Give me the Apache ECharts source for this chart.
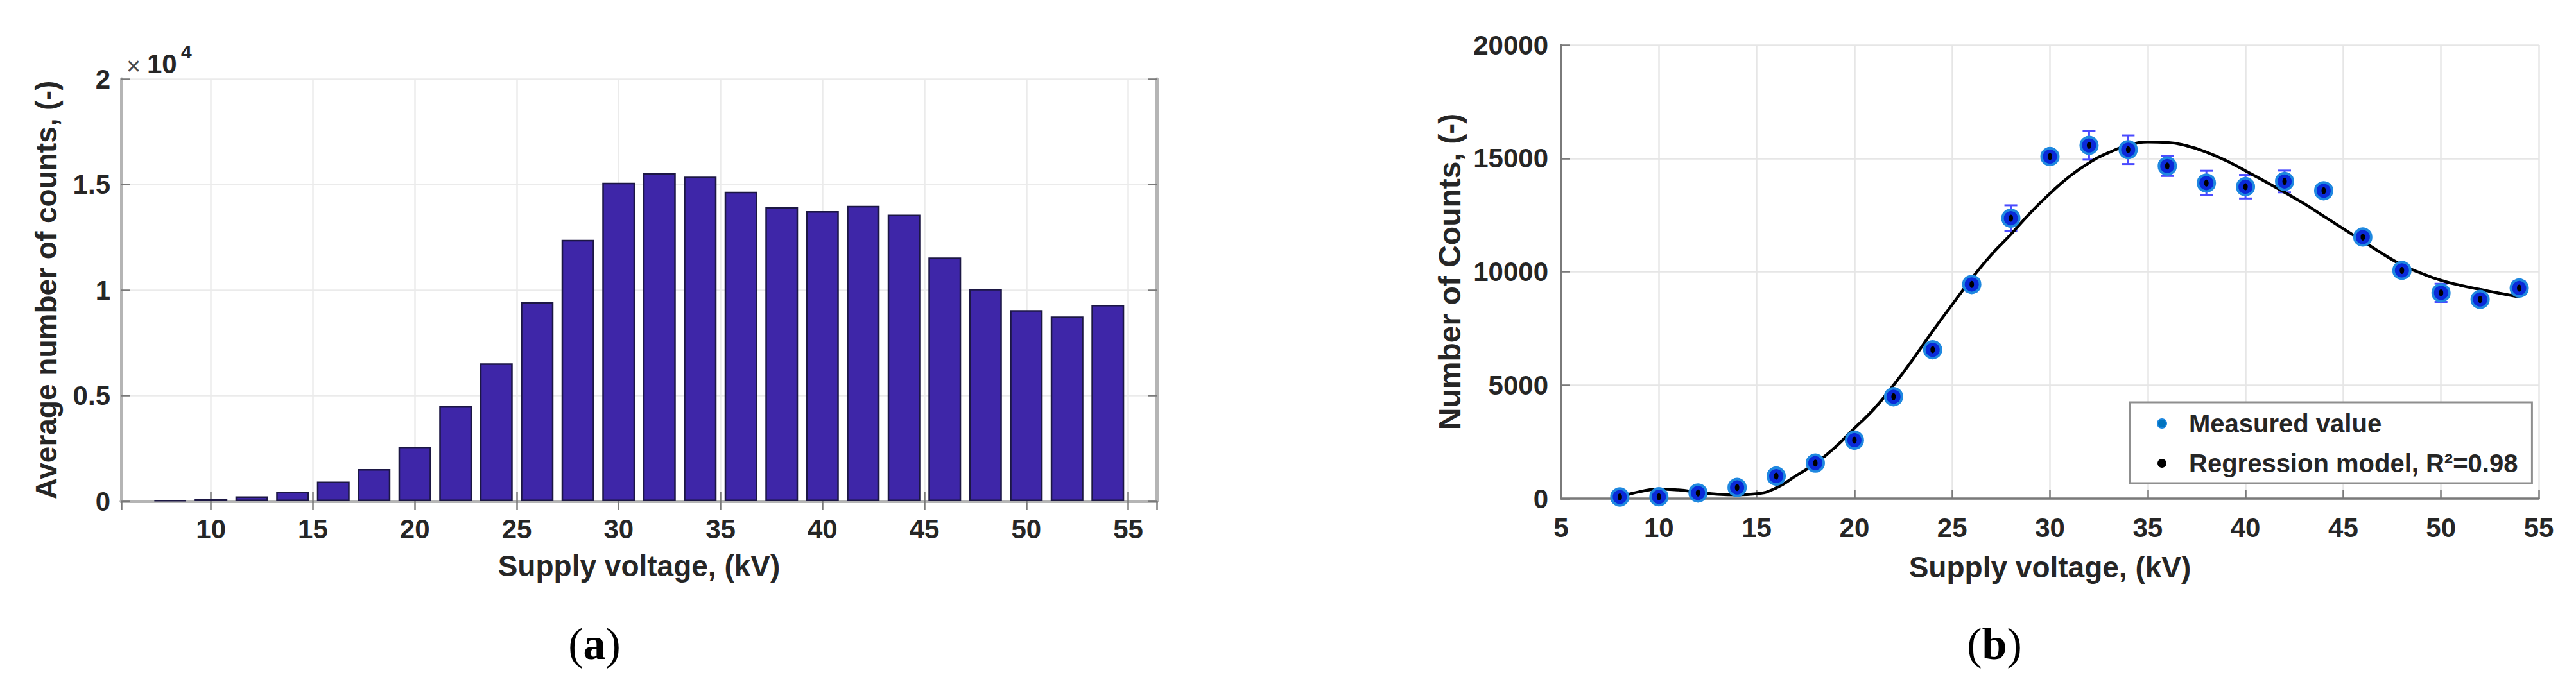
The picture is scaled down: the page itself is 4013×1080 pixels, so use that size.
<!DOCTYPE html>
<html><head><meta charset="utf-8">
<script src="https://cdn.jsdelivr.net/npm/echarts@6/dist/echarts.min.js"></script>
<style>html,body{margin:0;padding:0;background:#fff}#c{width:4013px;height:1080px}</style>
</head><body><div id="c"></div>
<script>
// ---- data ----
const voltage = [8,10,12,14,16,18,20,22,24,26,28,30,32,34,36,38,40,42,44,46,48,50,52,54];
const avgCounts = [40,120,230,450,930,1520,2580,4500,6530,9420,12380,15080,15540,15370,14660,13930,13740,13990,13570,11540,10050,9050,8750,9300];
const measuredCounts = [70,80,245,490,990,1565,2575,4490,6560,9440,12360,15080,15570,15380,14660,13910,13750,13980,13570,11530,10060,9070,8780,9280];
const measuredErr = [60,60,80,100,120,150,150,180,200,300,570,250,630,630,440,540,520,480,200,250,250,400,250,300];
const modelVoltage = [8,9,10,11,12,13,14,15,16,17,18,19,20,21,22,23,24,25,26,27,28,29,30,31,32,33,34,35,36,37,38,39,40,41,42,43,44,45,46,47,48,49,50,51,52,53,54];
const modelCounts = [70,300,420,380,280,190,160,210,470,1000,1550,2250,3100,3950,5000,6150,7380,8550,9700,10750,11650,12600,13450,14200,14800,15250,15560,15720,15700,15550,15270,14900,14450,13980,13500,13000,12450,11900,11350,10800,10300,9930,9620,9400,9220,9050,8890];
const yTickLabelsA = ['0','0.5','1','1.5','2'];
const legendNames = ['Measured value','Regression model, R\u00B2=0.98'];

const FONT = '"Liberation Sans", Arial, Helvetica, sans-serif';
const TXT = '#262626';
const chart = echarts.init(document.getElementById('c'), null, {renderer:'svg'});

const tickFont = {color:TXT, fontSize:42, fontWeight:'bold', fontFamily:FONT};
const nameFont = {color:TXT, fontSize:46, fontWeight:'bold', fontFamily:FONT};

const axA = {lineStyle:{color:'#b5b5b5', width:5}};
const tickA = {inside:true, length:14, lineStyle:{color:'#7a7a7a', width:2.5}};
const gridLineA = {show:true, lineStyle:{color:'#ebebeb', width:2.5}};
const axB = {lineStyle:{color:'#7a7a7a', width:3.5}};
const tickB = {inside:true, length:14, lineStyle:{color:'#7a7a7a', width:2.5}};
const gridLineB = {show:true, lineStyle:{color:'#e6e6e6', width:2.5}};

const option = {
  backgroundColor:'#ffffff',
  animation:false,
  grid:[
    {left:189, top:123, width:1613, height:658, containLabel:false},
    {left:2432, top:70, width:1523, height:707, containLabel:false}
  ],
  xAxis:[
    {gridIndex:0, type:'value', min:5.6, max:56.4, splitNumber:10,
     axisLine:axA, axisTick:tickA,
     axisLabel:Object.assign({showMinLabel:false, showMaxLabel:false, margin:22}, tickFont),
     splitLine:gridLineA,
     name:'Supply voltage, (kV)', nameLocation:'middle', nameGap:78, nameTextStyle:nameFont},
    {gridIndex:0, type:'value', position:'top', min:5.6, max:56.4, splitNumber:10,
     axisLine:axA, axisTick:tickA, axisLabel:{show:false}, splitLine:{show:false}},
    {gridIndex:1, type:'value', min:5, max:55, interval:5,
     axisLine:axB, axisTick:tickB,
     axisLabel:Object.assign({margin:24, formatter:function(v){return String(v);}}, tickFont),
     splitLine:gridLineB,
     name:'Supply voltage, (kV)', nameLocation:'middle', nameGap:84, nameTextStyle:nameFont}
  ],
  yAxis:[
    {gridIndex:0, type:'value', min:0, max:20000, interval:5000,
     axisLine:axA, axisTick:tickA,
     axisLabel:Object.assign({margin:17, formatter:function(v){return yTickLabelsA[Math.round(v/5000)];}}, tickFont),
     splitLine:gridLineA,
     name:'Average number of counts, (-)', nameLocation:'middle', nameGap:94, nameTextStyle:nameFont},
    {gridIndex:0, type:'value', position:'right', min:0, max:20000, interval:5000,
     axisLine:axA, axisTick:tickA, axisLabel:{show:false}, splitLine:{show:false}},
    {gridIndex:1, type:'value', min:0, max:20000, interval:5000,
     axisLine:axB, axisTick:tickB,
     axisLabel:Object.assign({margin:20, formatter:function(v){return String(v);}}, tickFont),
     splitLine:gridLineB,
     name:'Number of Counts, (-)', nameLocation:'middle', nameGap:150, nameTextStyle:Object.assign({}, nameFont, {fontSize:48})}
  ],
  legend:{
    show:true, orient:'vertical', left:3318, top:627,
    data:[
      {name:legendNames[0], icon:'circle', itemStyle:{color:'#0072BD'}},
      {name:legendNames[1], icon:'circle', itemStyle:{color:'#000000'}}
    ],
    itemWidth:14, itemHeight:14, itemGap:22,
    padding:[13,22,11,42],
    backgroundColor:'#ffffff', borderColor:'#8f8f8f', borderWidth:3, borderRadius:0,
    textStyle:{color:TXT, fontSize:40, fontWeight:'bold', fontFamily:FONT, lineHeight:40, padding:[0,0,0,30]},
    selectedMode:false
  },
  graphic:[
    {type:'text', z:10, style:{text:'\u00D7', x:208, y:103, align:'center', verticalAlign:'middle', fontSize:38, fontFamily:FONT, fill:'#4a4a4a'}},
    {type:'text', z:10, style:{text:'10', x:229, y:99, align:'left', verticalAlign:'middle', fontSize:42, fontWeight:'bold', fontFamily:FONT, fill:TXT}},
    {type:'text', z:10, style:{text:'4', x:282, y:80, align:'left', verticalAlign:'middle', fontSize:30, fontWeight:'bold', fontFamily:FONT, fill:TXT}},
    {type:'text', z:10, style:{text:'({b|a})', x:926, y:1003, align:'center', verticalAlign:'middle', fontSize:70, fontFamily:'"Liberation Serif", "Times New Roman", serif', fill:'#000',
      rich:{b:{fontSize:70, fontWeight:'bold', fontFamily:'"Liberation Serif", "Times New Roman", serif', fill:'#000'}}}},
    {type:'text', z:10, style:{text:'({b|b})', x:3107, y:1003, align:'center', verticalAlign:'middle', fontSize:70, fontFamily:'"Liberation Serif", "Times New Roman", serif', fill:'#000',
      rich:{b:{fontSize:70, fontWeight:'bold', fontFamily:'"Liberation Serif", "Times New Roman", serif', fill:'#000'}}}}
  ],
  series:[
    {type:'bar', xAxisIndex:0, yAxisIndex:0, barWidth:51,
     data:voltage.map(function(v,i){return [v, avgCounts[i]];}),
     itemStyle:{color:'#3E26A8', borderColor:'#1c1744', borderWidth:2.5}},
    {type:'custom', xAxisIndex:2, yAxisIndex:2, z:2,
     data:voltage.map(function(v,i){return [v, measuredCounts[i]-measuredErr[i], measuredCounts[i]+measuredErr[i]];}),
     renderItem:function(params, api){
       var x = api.value(0);
       var pLo = api.coord([x, api.value(1)]);
       var pHi = api.coord([x, api.value(2)]);
       var hw = 10;
       var st = {stroke:'#4b4bff', lineWidth:3, fill:null};
       return {type:'group', children:[
         {type:'line', shape:{x1:pLo[0], y1:pLo[1], x2:pHi[0], y2:pHi[1]}, style:st},
         {type:'line', shape:{x1:pLo[0]-hw, y1:pLo[1], x2:pLo[0]+hw, y2:pLo[1]}, style:st},
         {type:'line', shape:{x1:pHi[0]-hw, y1:pHi[1], x2:pHi[0]+hw, y2:pHi[1]}, style:st}
       ]};
     }},
    {type:'line', name:legendNames[1], xAxisIndex:2, yAxisIndex:2, z:3,
     data:modelVoltage.map(function(v,i){return [v, modelCounts[i]];}),
     smooth:true, showSymbol:false, symbol:'none',
     lineStyle:{color:'#000000', width:4.5}, itemStyle:{color:'#000000'}},
    {type:'scatter', name:legendNames[0], xAxisIndex:2, yAxisIndex:2, z:4,
     data:voltage.map(function(v,i){return [v, measuredCounts[i]];}),
     symbol:'circle', symbolSize:26,
     itemStyle:{color:'#0a2ad8', borderColor:'#1f88e0', borderWidth:4, opacity:1}},
    {type:'scatter', xAxisIndex:2, yAxisIndex:2, z:5, silent:true,
     data:voltage.map(function(v,i){return [v, measuredCounts[i]];}),
     symbol:'circle', symbolSize:[7,11],
     itemStyle:{color:'#000000', opacity:1}}
  ]
};
chart.setOption(option);
</script>
</body></html>
